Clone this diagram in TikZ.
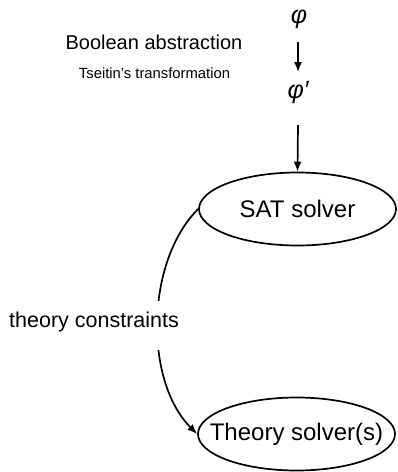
\documentclass[tikz,border=0pt]{standalone}
\usepackage{fontspec}
\setmainfont{Liberation Sans}
\usetikzlibrary{shapes.geometric,arrows.meta}
\begin{document}
\begin{tikzpicture}[x=1pt,y=-1pt,
  solver/.style={draw,ellipse,line width=1.7pt,minimum width=197pt,minimum height=73pt,inner ysep=0pt,font=\fontsize{24}{28}\selectfont},
  formula/.style={inner sep=0pt,font=\fontsize{25}{28}\selectfont\itshape},
  arr/.style={line width=1.7pt,-{Latex[length=10pt,width=8pt]}},
  lbl/.style={inner sep=0pt}]
\useasboundingbox (0,0) rectangle (397,472);
\node[formula] (phi) at (299,19) {φ};
\node[formula] (phip) at (298,92) {φ′};
\node[solver] (sat) at (297.5,209) {SAT solver};
\node[solver,inner xsep=-20pt] (th) at (296.5,434) {Theory solver(s)};
\node[lbl,anchor=base,font=\fontsize{20}{24}\selectfont] (ba) at (154,49) {Boolean abstraction};
\node[lbl,anchor=base,font=\fontsize{14.8}{18}\selectfont] (ts) at (154.5,78) {Tseitin’s transformation};
\coordinate (a1s) at (298,42);
\coordinate (a1e) at (298,72);
\coordinate (a2s) at (298,125);
\draw[arr] (a1s) -- (a1e);
\draw[arr] (a2s) -- (sat.north);
\draw[arr] (sat.west) to[out=225,in=135,looseness=0.85] (th.west);
\node[lbl,anchor=base west,fill=white,text height=26pt,text depth=23pt,font=\fontsize{21.5}{26}\selectfont] (tc) at (9,327) {theory constraints};
\end{tikzpicture}
\end{document}
